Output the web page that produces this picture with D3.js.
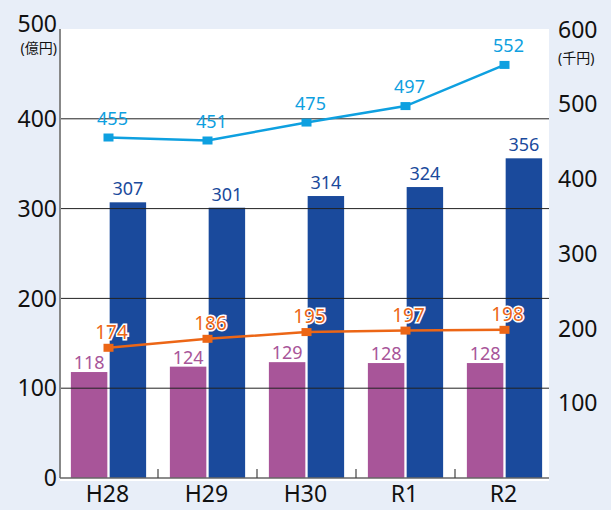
<!DOCTYPE html>
<html>
<head>
<meta charset="utf-8">
<script src="https://cdn.jsdelivr.net/npm/d3@7"></script>
<style>
  body { margin: 0; background: #e8eef8; }
  svg { display: block; font-family: "Noto Sans", "Noto Sans CJK JP", sans-serif; }
</style>
</head>
<body>
<div id="chart"></div>
<script>
// data
var years = ["H28", "H29", "H30", "R1", "R2"];
var purpleBar = [118, 124, 129, 128, 128];
var blueBar = [307, 301, 314, 324, 356];
var blueLine = [455, 451, 475, 497, 552];
var orangeLine = [174, 186, 195, 197, 198];
var leftTicks = [0, 100, 200, 300, 400, 500];
var rightTicks = [100, 200, 300, 400, 500, 600];

var W = 611, H = 510;
var plotL = 60, plotR = 549, plotT = 29, plotB = 478;

var svg = d3.select("#chart").append("svg")
    .attr("width", W)
    .attr("height", H);

svg.append("rect").attr("width", W).attr("height", H).attr("fill", "#e8eef8");
svg.append("rect")
    .attr("x", plotL).attr("y", plotT)
    .attr("width", plotR - plotL).attr("height", plotB - plotT + 3)
    .attr("fill", "#fff");

var x = d3.scaleBand().domain(years).range([59, 554]).paddingInner(0.24).paddingOuter(0.12);
var sub = d3.scaleBand().domain(["p", "b"]).range([0, x.bandwidth()]).paddingInner(0.06);
var yL = d3.scaleLinear().domain([0, 500]).range([plotB, plotT]);
var yR = d3.scaleLinear().domain([0, 600]).range([plotB, plotT]);
var cx = function (i) { return x(years[i]) + x.bandwidth() / 2; };

// bars
svg.selectAll(".pbar").data(purpleBar).enter().append("rect")
    .attr("x", function (d, i) { return x(years[i]) + sub("p"); })
    .attr("y", function (d) { return yL(d); })
    .attr("width", sub.bandwidth())
    .attr("height", function (d) { return plotB - yL(d); })
    .attr("fill", "#a85599");
svg.selectAll(".bbar").data(blueBar).enter().append("rect")
    .attr("x", function (d, i) { return x(years[i]) + sub("b"); })
    .attr("y", function (d) { return yL(d); })
    .attr("width", sub.bandwidth())
    .attr("height", function (d) { return plotB - yL(d); })
    .attr("fill", "#1a4a9c");

// gridlines over bars
svg.selectAll(".grid").data([100, 200, 300, 400]).enter().append("line")
    .attr("x1", plotL).attr("x2", plotR)
    .attr("y1", function (d) { return yL(d); })
    .attr("y2", function (d) { return yL(d); })
    .attr("stroke", "#222").attr("stroke-width", 1);

// axes
svg.append("line").attr("x1", plotL).attr("x2", plotL).attr("y1", plotT).attr("y2", plotB)
    .attr("stroke", "#888").attr("stroke-width", 2);
svg.append("line").attr("x1", plotL).attr("x2", plotR).attr("y1", plotB).attr("y2", plotB)
    .attr("stroke", "#666").attr("stroke-width", 1.5);
svg.selectAll(".xtick").data(years.slice(1)).enter().append("line")
    .attr("x1", function (d) { return x(d) - x.step() * x.paddingInner() / 2; })
    .attr("x2", function (d) { return x(d) - x.step() * x.paddingInner() / 2; })
    .attr("y1", plotB - 9).attr("y2", plotB)
    .attr("stroke", "#444").attr("stroke-width", 1.2);

svg.selectAll(".lt").data(leftTicks).enter().append("text")
    .attr("x", 57).attr("y", function (d) { return yL(d) - (d === 500 ? 5 : 0); })
    .attr("dy", "0.36em").attr("text-anchor", "end")
    .attr("font-size", 23).attr("fill", "#111")
    .text(function (d) { return d; });
svg.append("text").attr("x", 57).attr("y", 53).attr("text-anchor", "end")
    .attr("font-size", 14).attr("fill", "#111").text("(億円)");

svg.selectAll(".rt").data(rightTicks).enter().append("text")
    .attr("x", 558).attr("y", function (d) { return yR(d) + (d === 600 ? 1 : 0); })
    .attr("dy", "0.36em").attr("text-anchor", "start")
    .attr("font-size", 23).attr("fill", "#111")
    .text(function (d) { return d; });
svg.append("text").attr("x", 558).attr("y", 63)
    .attr("font-size", 14).attr("fill", "#111").text("(千円)");

svg.selectAll(".xl").data(years).enter().append("text")
    .attr("x", function (d, i) { return cx(i) - 1; })
    .attr("y", 502).attr("text-anchor", "middle")
    .attr("font-size", 23).attr("fill", "#111")
    .text(function (d) { return d; });

// lines
var line = d3.line().x(function (d, i) { return cx(i); }).y(function (d) { return yR(d); });
function series(vals, color) {
    svg.append("path").datum(vals).attr("d", line)
        .attr("fill", "none").attr("stroke", color).attr("stroke-width", 2.5);
    svg.selectAll(null).data(vals).enter().append("rect")
        .attr("x", function (d, i) { return cx(i) - 5; })
        .attr("y", function (d) { return yR(d) - 4; })
        .attr("width", 10).attr("height", 8)
        .attr("fill", color);
}
series(blueLine, "#0ea0e0");
series(orangeLine, "#ec6616");

// labels
svg.selectAll(".pl").data(purpleBar).enter().append("text")
    .attr("x", function (d, i) { return x(years[i]) + sub("p") + sub.bandwidth() / 2; })
    .attr("y", function (d) { return yL(d) - 3; })
    .attr("text-anchor", "middle").attr("font-size", 18).attr("fill", "#a85599")
    .text(function (d) { return d; });
svg.selectAll(".bl").data(blueBar).enter().append("text")
    .attr("x", function (d, i) { return x(years[i]) + sub("b") + sub.bandwidth() / 2; })
    .attr("y", function (d) { return yL(d) - 7; })
    .attr("text-anchor", "middle").attr("font-size", 18).attr("fill", "#1a4a9c")
    .text(function (d) { return d; });
svg.selectAll(".ll").data(blueLine).enter().append("text")
    .attr("x", function (d, i) { return cx(i) + 4; })
    .attr("y", function (d) { return yR(d) - 13; })
    .attr("text-anchor", "middle").attr("font-size", 18).attr("fill", "#0ea0e0")
    .text(function (d) { return d; });
svg.selectAll(".ol").data(orangeLine).enter().append("text")
    .attr("x", function (d, i) { return cx(i) + 3; })
    .attr("y", function (d) { return yR(d) - 9; })
    .attr("text-anchor", "middle").attr("font-size", 19).attr("fill", "#ec6616")
    .attr("stroke", "#fff").attr("stroke-width", 3).attr("paint-order", "stroke")
    .text(function (d) { return d; });
</script>
</body>
</html>
